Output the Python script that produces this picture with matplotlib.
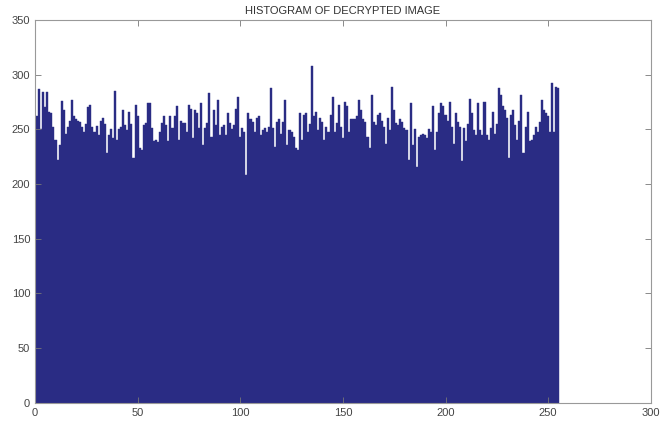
import numpy as np
import matplotlib as mpl
import matplotlib.pyplot as plt

mpl.use('Agg')

# pixel counts per grey level (0..255)
counts_a = [255, 262, 287, 250, 284, 270, 284, 266, 265, 252,
            240, 222, 236, 276, 268, 246, 252, 258, 277, 262,
            259, 258, 257, 252, 248, 255, 270, 272, 252, 248,
            253, 245, 258, 260, 255, 228, 245, 250, 242, 285,
            240, 250, 252, 268]
counts_b = [254, 249, 266, 255, 224, 272, 262, 233, 231, 254,
            256, 274, 274, 251, 239, 240, 238, 248, 256, 262,
            254, 239, 262, 251, 262, 271, 240, 258, 256, 256,
            248, 272, 269, 242, 268, 265, 251, 274, 236, 251,
            256, 283, 243, 268]
counts_c = [254, 277, 245, 252, 254, 245, 265, 256, 250, 254,
            269, 280, 243, 251, 248, 208, 265, 259, 257, 248,
            260, 262, 245, 249, 251, 248, 252, 288, 251, 234,
            257, 259, 246, 257, 277, 236, 249, 248, 243, 233,
            231, 265, 240, 263]
counts_d = [265, 248, 255, 308, 262, 266, 249, 260, 257, 240,
            252, 248, 263, 280, 248, 256, 272, 252, 242, 275,
            271, 248, 259, 259, 259, 262, 277, 268, 259, 257,
            243, 233, 281, 257, 254, 263, 265, 258, 252, 237,
            260, 249, 289]
counts_e = [268, 256, 254, 259, 257, 251, 249, 222, 274, 236,
            250, 216, 243, 245, 246, 245, 242, 250, 248, 271,
            231, 248, 265, 274, 271, 263, 258, 275, 252, 237,
            265, 257, 252, 221, 251, 239, 255, 278, 265, 249,
            245, 274, 249, 245]
counts_f = [275, 245, 240, 251, 266, 246, 255, 288, 281, 271,
            268, 260, 224, 263, 268, 254, 240, 258, 281, 228,
            252, 266, 239, 240, 245, 252, 248, 257, 277, 268,
            265, 262, 248, 292, 248, 289, 288]
counts = counts_a + counts_b + counts_c + counts_d + counts_e + counts_f
levels = np.arange(len(counts))

x_ticks = [0, 50, 100, 150, 200, 250, 300]
y_ticks = [0, 50, 100, 150, 200, 250, 300, 350]
title = 'HISTOGRAM OF DECRYPTED IMAGE'

plt.rcParams['font.family'] = ['Liberation Sans', 'DejaVu Sans']

fig = plt.figure(figsize=(6.6, 4.24), dpi=100)
ax = fig.add_axes([0.053, 0.05, 0.933, 0.903])

# matlab-style bars: centred on each level, no visible seams
ax.bar(levels, counts, width=1.0, color='#2a2c84',
       edgecolor='#2a2c84', linewidth=0.3)

ax.set_xlim(0, 300)
ax.set_ylim(0, 350)
ax.set_xticks(x_ticks)
ax.set_yticks(y_ticks)
ax.tick_params(direction='in', top=True, right=True, labelsize=8,
               length=4, width=0.6, color='#777777', labelcolor='#444444')
for spine in ax.spines.values():
    spine.set_color('#999999')
    spine.set_linewidth(0.8)
ax.set_title(title, fontsize=8, color='#333333', pad=4)

fig.savefig('out.png', dpi=100)
